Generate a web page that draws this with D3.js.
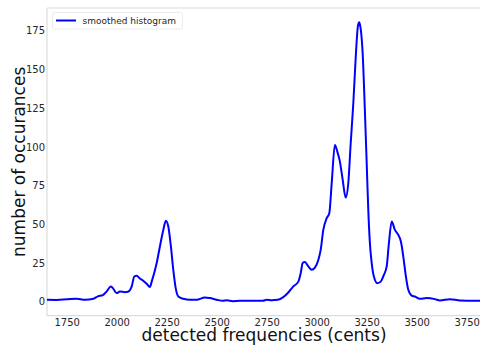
<!DOCTYPE html>
<html>
<head>
<meta charset="utf-8">
<script src="https://cdn.jsdelivr.net/npm/d3@7"></script>
<style>
  html, body { margin: 0; padding: 0; background: #fff; }
  svg { display: block; font-family: "DejaVu Sans", sans-serif; }
</style>
</head>
<body>
<svg id="chart" width="480" height="345"></svg>
<script>
// Detected frequencies (cents) and smoothed histogram counts
const cents = [1640, 1700, 1750, 1800, 1841, 1884, 1906, 1931, 1950, 1971, 1981, 2000, 2016, 2041, 2056, 2075, 2088, 2100, 2116, 2133, 2150, 2166, 2175, 2200, 2216, 2233, 2246, 2258, 2271, 2283, 2295, 2308, 2333, 2366, 2400, 2441, 2466, 2500, 2531, 2550, 2581, 2616, 2680, 2731, 2750, 2775, 2806, 2831, 2858, 2883, 2908, 2920, 2930, 2941, 2958, 2975, 2991, 3008, 3020, 3033, 3050, 3063, 3075, 3091, 3103, 3116, 3130, 3145, 3158, 3170, 3183, 3196, 3206, 3212, 3218, 3230, 3241, 3250, 3258, 3266, 3275, 3286, 3303, 3320, 3336, 3350, 3361, 3375, 3391, 3408, 3421, 3433, 3446, 3458, 3475, 3491, 3516, 3550, 3591, 3616, 3666, 3716, 3766, 3830];
const counts = [1.3, 1.2, 1.6, 2.0, 1.3, 2.0, 3.5, 4.3, 6.7, 9.9, 8.8, 5.6, 6.6, 6.2, 6.4, 9.9, 16.3, 16.8, 15.0, 13.5, 11.6, 9.5, 13.0, 25.0, 35.7, 46.4, 52.3, 48.6, 35.7, 20.6, 8.8, 3.4, 1.9, 1.3, 1.3, 2.8, 2.4, 1.3, 0.6, 0.9, 0.4, 0.6, 0.6, 0.6, 1.3, 1.0, 1.3, 2.8, 6.0, 9.9, 13.0, 18.5, 25.0, 25.6, 22.8, 20.6, 22.0, 27.0, 33.5, 46.4, 54.0, 57.2, 76.6, 101.3, 97.0, 90.5, 78.7, 67.3, 76.6, 102.4, 128.0, 160.0, 178.0, 180.5, 178.0, 160.0, 123.0, 89.5, 59.0, 37.8, 25.0, 16.3, 12.0, 13.0, 17.4, 22.8, 37.8, 51.8, 46.4, 43.2, 38.9, 29.2, 16.3, 7.7, 4.0, 3.4, 1.9, 2.4, 1.7, 0.8, 1.7, 0.8, 0.7, 0.6];
const xTicks = [1750, 2000, 2250, 2500, 2750, 3000, 3250, 3500, 3750];
const yTicks = [0, 25, 50, 75, 100, 125, 150, 175];
const seriesName = "smoothed histogram";
const xLabel = "detected frequencies (cents)";
const yLabel = "number of occurances";

(function () {
const data = cents.map((c, i) => ({ c: c, v: counts[i] }));

const svg = d3.select("#chart");
const pL = 47, pT = 8, pR = 480, pB = 315.7;

const x = d3.scaleLinear().domain([1651.5, 3816.5]).range([pL, pR]);
const y = d3.scaleLinear().domain([-9, 189.7]).range([pB, pT]);

// spines
const spine = "#dcdcdc";
svg.append("line").attr("x1", pL).attr("x2", pL).attr("y1", pT).attr("y2", pB)
  .attr("stroke", spine).attr("stroke-width", 1.2);
svg.append("line").attr("x1", pL).attr("x2", pR).attr("y1", pT).attr("y2", pT)
  .attr("stroke", spine).attr("stroke-width", 1.2);
svg.append("line").attr("x1", pL).attr("x2", pR).attr("y1", pB).attr("y2", pB)
  .attr("stroke", spine).attr("stroke-width", 1.2);

// axes (no tick marks)
const xAxis = svg.append("g").attr("transform", `translate(0,${pB})`)
  .call(d3.axisBottom(x).tickValues(xTicks).tickSize(0).tickPadding(3).tickFormat(d3.format("d")));
const yAxis = svg.append("g").attr("transform", `translate(${pL},0)`)
  .call(d3.axisLeft(y).tickValues(yTicks).tickSize(0).tickPadding(2).tickFormat(d3.format("d")));
[xAxis, yAxis].forEach(g => {
  g.select(".domain").remove();
  g.selectAll("text").attr("font-size", 10).attr("fill", "#262626")
    .attr("font-family", "DejaVu Sans, sans-serif");
});

// clip
svg.append("clipPath").attr("id", "plotclip").append("rect")
  .attr("x", pL).attr("y", pT).attr("width", pR - pL).attr("height", pB - pT);

const line = d3.line().x(d => x(d.c)).y(d => y(d.v)).curve(d3.curveMonotoneX);
svg.append("path").datum(data).attr("clip-path", "url(#plotclip)")
  .attr("d", line).attr("fill", "none").attr("stroke", "#0000ff")
  .attr("stroke-width", 2).attr("stroke-linejoin", "round");

// axis labels
svg.append("text").attr("x", 264).attr("y", 340.5)
  .attr("text-anchor", "middle").attr("font-size", 17).attr("fill", "#111").text(xLabel);
svg.append("text").attr("transform", `translate(25,${(pT + pB) / 2}) rotate(-90)`)
  .attr("text-anchor", "middle").attr("font-size", 17).attr("fill", "#111").text(yLabel);

// legend
const lg = svg.append("g");
lg.append("rect").attr("x", 52.5).attr("y", 12.5).attr("width", 130).attr("height", 16.5)
  .attr("rx", 2).attr("fill", "#fff").attr("stroke", "#ececec").attr("stroke-width", 1);
lg.append("line").attr("x1", 56).attr("x2", 76).attr("y1", 20.5).attr("y2", 20.5)
  .attr("stroke", "#0000ff").attr("stroke-width", 2);
lg.append("text").attr("x", 82.5).attr("y", 20.5).attr("dy", "0.35em")
  .attr("font-size", 9).attr("fill", "#262626").text(seriesName);
})();
</script>
</body>
</html>
